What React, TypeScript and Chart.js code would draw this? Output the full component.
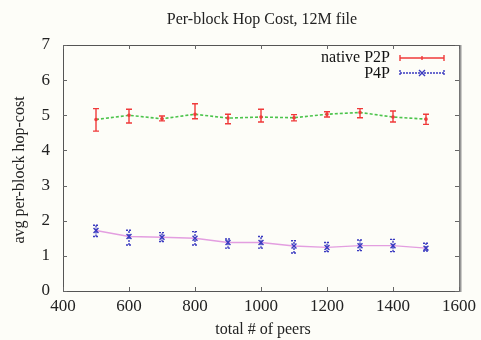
import React, { useEffect, useRef } from "react";
import { Chart, registerables } from "chart.js";

Chart.register(...registerables);

const peers = [500, 600, 700, 800, 900, 1000, 1100, 1200, 1300, 1400, 1500];
const p2pMean = [4.88, 5.0, 4.9, 5.03, 4.92, 4.95, 4.93, 5.03, 5.08, 4.95, 4.89];
const p2pLow = [4.55, 4.78, 4.84, 4.9, 4.76, 4.81, 4.84, 4.95, 4.93, 4.81, 4.74];
const p2pHigh = [5.19, 5.17, 4.98, 5.33, 5.03, 5.17, 5.02, 5.1, 5.19, 5.12, 5.03];
const p4pMean = [1.72, 1.55, 1.53, 1.5, 1.38, 1.38, 1.28, 1.24, 1.29, 1.29, 1.22];
const p4pLow = [1.55, 1.31, 1.41, 1.31, 1.22, 1.22, 1.08, 1.12, 1.15, 1.12, 1.14];
const p4pHigh = [1.87, 1.73, 1.66, 1.69, 1.48, 1.55, 1.43, 1.38, 1.45, 1.47, 1.36];

const xTicks = [400, 600, 800, 1000, 1200, 1400, 1600];
const yTicks = [0, 1, 2, 3, 4, 5, 6, 7];

const titleText = "Per-block Hop Cost, 12M file";
const xTitle = "total # of peers";
const yTitle = "avg per-block hop-cost";
const seriesNames = ["native P2P", "P4P"];

const SERIF = "'Liberation Serif', 'DejaVu Serif', serif";
const RED = "#f03a3a";
const GREEN = "#4cc44c";
const BLUE = "#3a3ac0";
const PINK = "#e39ee0";

const errBars = [
  { low: p2pLow, high: p2pHigh, color: RED, dash: [] as number[] },
  { low: p4pLow, high: p4pHigh, color: BLUE, dash: [2, 1] },
];

const customPlugin = {
  id: "custom",
  beforeDraw(chart: any) {
    const ctx = chart.ctx;
    ctx.save();
    ctx.fillStyle = "#fdfdf8";
    ctx.fillRect(0, 0, chart.width, chart.height);
    ctx.restore();
  },
  afterDatasetsDraw(chart: any) {
    const ctx = chart.ctx;
    const xs = chart.scales.x;
    const ys = chart.scales.y;
    const a = chart.chartArea;
    ctx.save();
    // error bars
    errBars.forEach((eb) => {
      ctx.strokeStyle = eb.color;
      ctx.lineWidth = 1.4;
      ctx.setLineDash(eb.dash);
      peers.forEach((p, i) => {
        const x = xs.getPixelForValue(p);
        const y1 = ys.getPixelForValue(eb.low[i]);
        const y2 = ys.getPixelForValue(eb.high[i]);
        ctx.beginPath();
        ctx.moveTo(x, y1);
        ctx.lineTo(x, y2);
        ctx.moveTo(x - 3, y1);
        ctx.lineTo(x + 3, y1);
        ctx.moveTo(x - 3, y2);
        ctx.lineTo(x + 3, y2);
        ctx.stroke();
      });
    });
    ctx.setLineDash([]);
    // frame
    ctx.strokeStyle = "#555";
    ctx.lineWidth = 1;
    ctx.strokeRect(a.left + 0.5, a.top + 0.5, a.right - a.left, a.bottom - a.top);
    ctx.strokeStyle = "#999";
    ctx.lineWidth = 2;
    ctx.beginPath();
    ctx.moveTo(a.right + 1.5, a.top);
    ctx.lineTo(a.right + 1.5, a.bottom + 1);
    ctx.stroke();
    // inward ticks
    ctx.strokeStyle = "#666";
    ctx.lineWidth = 1;
    ctx.beginPath();
    xTicks.forEach((t) => {
      const x = Math.round(xs.getPixelForValue(t)) + 0.5;
      ctx.moveTo(x, a.bottom);
      ctx.lineTo(x, a.bottom - 4);
      ctx.moveTo(x, a.top);
      ctx.lineTo(x, a.top + 4);
    });
    yTicks.forEach((t) => {
      const y = Math.round(ys.getPixelForValue(t)) + 0.5;
      ctx.moveTo(a.left, y);
      ctx.lineTo(a.left + 4, y);
      ctx.moveTo(a.right, y);
      ctx.lineTo(a.right - 4, y);
    });
    ctx.stroke();
    // titles
    ctx.fillStyle = "#222";
    ctx.font = `16px ${SERIF}`;
    ctx.textAlign = "center";
    ctx.textBaseline = "middle";
    ctx.fillText(titleText, 262, 20);
    ctx.fillText(xTitle, 263, 330);
    ctx.save();
    ctx.translate(20, 170);
    ctx.rotate(-Math.PI / 2);
    ctx.fillText(yTitle, 0, 0);
    ctx.restore();
    // legend
    ctx.font = `16px ${SERIF}`;
    ctx.textAlign = "right";
    ctx.fillStyle = "#111";
    ctx.fillText(seriesNames[0], 390, 58);
    ctx.fillText(seriesNames[1], 390, 74);
    // P2P sample
    ctx.strokeStyle = RED;
    ctx.lineWidth = 1.4;
    ctx.beginPath();
    ctx.moveTo(400, 58);
    ctx.lineTo(444, 58);
    ctx.moveTo(400, 55);
    ctx.lineTo(400, 61);
    ctx.moveTo(444, 55);
    ctx.lineTo(444, 61);
    ctx.moveTo(422, 56);
    ctx.lineTo(422, 60);
    ctx.stroke();
    // P4P sample
    ctx.strokeStyle = BLUE;
    ctx.setLineDash([2, 1]);
    ctx.beginPath();
    ctx.moveTo(400, 73);
    ctx.lineTo(444, 73);
    ctx.moveTo(400, 70);
    ctx.lineTo(400, 76);
    ctx.moveTo(444, 70);
    ctx.lineTo(444, 76);
    ctx.stroke();
    ctx.setLineDash([]);
    ctx.beginPath();
    ctx.moveTo(419, 70);
    ctx.lineTo(425, 76);
    ctx.moveTo(425, 70);
    ctx.lineTo(419, 76);
    ctx.stroke();
    ctx.restore();
  },
};

export default function App() {
  const ref = useRef<HTMLCanvasElement | null>(null);
  useEffect(() => {
    if (!ref.current) return;
    const chart = new Chart(ref.current, {
      type: "line",
      data: {
        datasets: [
          {
            label: seriesNames[0],
            data: peers.map((p, i) => ({ x: p, y: p2pMean[i] })),
            borderColor: GREEN,
            borderWidth: 1.6,
            borderDash: [3, 2],
            pointRadius: 1,
            pointBackgroundColor: RED,
            pointBorderColor: RED,
            tension: 0,
          },
          {
            label: seriesNames[1],
            data: peers.map((p, i) => ({ x: p, y: p4pMean[i] })),
            borderColor: PINK,
            borderWidth: 1.4,
            pointStyle: "crossRot",
            pointRadius: 3.5,
            pointBorderColor: BLUE,
            pointBorderWidth: 1.4,
            tension: 0,
          },
        ],
      },
      options: {
        responsive: false,
        animation: false,
        layout: { padding: { left: 0, right: 16, top: 45, bottom: 0 } },
        plugins: {
          legend: { display: false },
          title: { display: false },
          tooltip: { enabled: false },
        },
        scales: {
          x: {
            type: "linear",
            min: 400,
            max: 1600,
            afterBuildTicks: (s: any) => {
              s.ticks = xTicks.map((v) => ({ value: v }));
            },
            afterFit: (s: any) => {
              s.height = 49;
            },
            grid: { display: false, drawTicks: false },
            border: { display: false },
            ticks: {
              padding: 5,
              color: "#222",
              font: { family: SERIF, size: 17 },
              callback: (v: any) => String(v),
            },
          },
          y: {
            type: "linear",
            min: 0,
            max: 7,
            afterBuildTicks: (s: any) => {
              s.ticks = yTicks.map((v) => ({ value: v }));
            },
            afterFit: (s: any) => {
              s.width = 63;
            },
            grid: { display: false, drawTicks: false },
            border: { display: false },
            ticks: {
              padding: 13,
              color: "#222",
              font: { family: SERIF, size: 17 },
              callback: (v: any) => String(v),
            },
          },
        },
      },
      plugins: [customPlugin],
    });
    return () => chart.destroy();
  }, []);
  return (
    <div style={{ position: "fixed", left: 0, top: 0, width: 481, height: 340 }}>
      <canvas ref={ref} width={481} height={340} />
    </div>
  );
}
